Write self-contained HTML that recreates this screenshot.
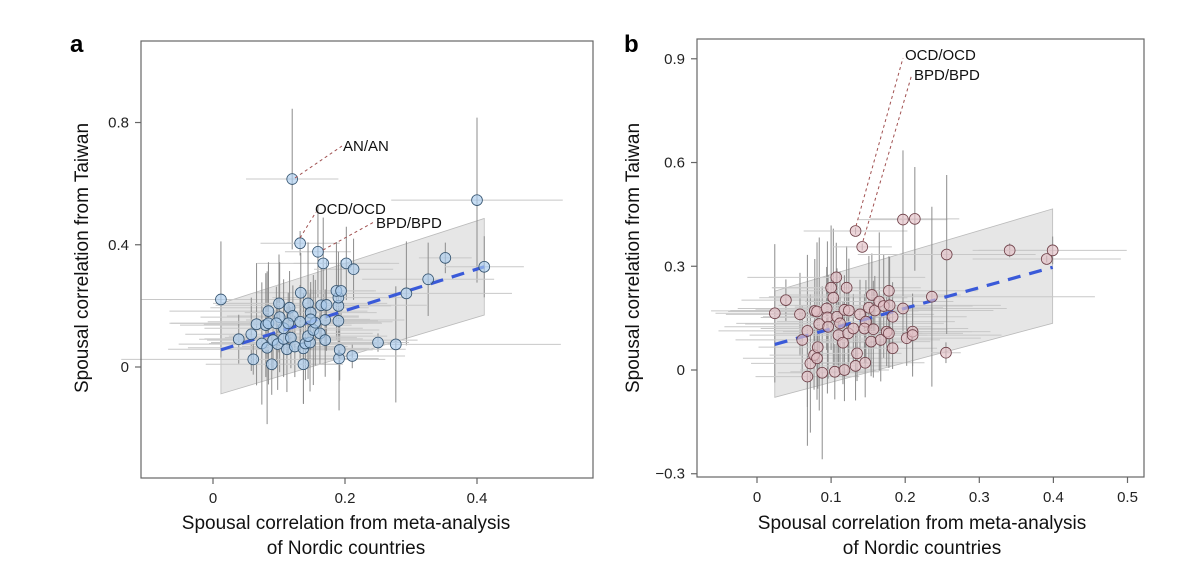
<!DOCTYPE html>
<html><head><meta charset="utf-8">
<style>
html,body{margin:0;padding:0;background:#fff;}
svg{display:block;font-family:"Liberation Sans",sans-serif;}
</style></head>
<body>
<svg id="chart" width="1200" height="581" viewBox="0 0 1200 581" xmlns="http://www.w3.org/2000/svg">
<text x="70" y="52" font-size="24" font-weight="bold">a</text>
<text x="624" y="52" font-size="24" font-weight="bold">b</text>
<g id="pa"></g>
<g id="pb"></g>
</svg>
<script>
// Panel a data
const aX=[0.012,0.120,0.132,0.159,0.167,0.202,0.213,0.400,0.352,0.411,0.326,0.293,0.250,0.277,0.211,0.191,0.192,0.190,0.190,0.190,0.187,0.194,0.133,0.100,0.116,0.084,0.121,0.101,0.066,0.080,0.084,0.039,0.058,0.074,0.082,0.091,0.098,0.107,0.118,0.112,0.124,0.137,0.140,0.147,0.137,0.089,0.061,0.144,0.152,0.162,0.170,0.144,0.148,0.164,0.172,0.170,0.155,0.132,0.107,0.114,0.096,0.148];
const aY=[0.221,0.615,0.405,0.377,0.339,0.339,0.320,0.546,0.357,0.328,0.287,0.241,0.080,0.074,0.036,0.028,0.056,0.151,0.200,0.227,0.249,0.249,0.243,0.208,0.194,0.183,0.167,0.163,0.140,0.137,0.143,0.091,0.107,0.077,0.063,0.088,0.075,0.092,0.096,0.058,0.067,0.061,0.077,0.080,0.009,0.009,0.025,0.101,0.121,0.110,0.088,0.208,0.178,0.202,0.203,0.154,0.145,0.148,0.127,0.143,0.143,0.156];
const aXE=[0.12,0.07,0.06,0.05,0.10,0.08,0.06,0.13,0.04,0.06,0.10,0.16,0.04,0.25,0.08,0.06,0.05,0.06,0.08,0.10,0.06,0.05,0.07,0.10,0.12,0.15,0.10,0.12,0.08,0.13,0.15,0.06,0.10,0.08,0.12,0.10,0.15,0.12,0.10,0.18,0.08,0.10,0.12,0.15,0.06,0.10,0.20,0.12,0.10,0.08,0.14,0.12,0.10,0.16,0.08,0.12,0.10,0.14,0.12,0.10,0.16,0.09];
const aYE=[0.19,0.23,0.04,0.15,0.15,0.12,0.10,0.27,0.05,0.10,0.12,0.17,0.03,0.19,0.04,0.17,0.10,0.12,0.14,0.15,0.16,0.10,0.13,0.16,0.12,0.15,0.10,0.18,0.20,0.17,0.20,0.08,0.12,0.20,0.25,0.10,0.15,0.12,0.10,0.14,0.10,0.18,0.12,0.16,0.13,0.10,0.05,0.14,0.18,0.10,0.12,0.20,0.10,0.12,0.15,0.10,0.14,0.12,0.16,0.10,0.12,0.10];
const aTicksX=[0,0.2,0.4], aTicksY=[0,0.4,0.8];
const aFit=[[0.012,0.056],[0.411,0.328]];
const aBandHi=[0.208,0.486], aBandLo=[-0.088,0.170];
// Panel b data
const bX=[0.024,0.039,0.058,0.061,0.068,0.072,0.068,0.077,0.081,0.082,0.078,0.081,0.084,0.088,0.094,0.095,0.096,0.100,0.103,0.107,0.105,0.108,0.112,0.110,0.116,0.118,0.121,0.118,0.124,0.123,0.130,0.133,0.142,0.135,0.133,0.139,0.146,0.147,0.145,0.151,0.154,0.155,0.157,0.159,0.165,0.167,0.171,0.175,0.178,0.178,0.179,0.183,0.183,0.197,0.197,0.213,0.202,0.210,0.210,0.236,0.256,0.255,0.341,0.391,0.399];
const bY=[0.164,0.202,0.161,0.087,0.113,0.019,-0.019,0.043,0.034,0.066,0.171,0.169,0.133,-0.008,0.178,0.152,0.125,0.238,0.209,0.268,-0.005,0.154,0.135,0.101,0.079,0.000,0.238,0.174,0.172,0.106,0.120,0.402,0.356,0.048,0.012,0.161,0.021,0.140,0.120,0.180,0.082,0.217,0.118,0.172,0.198,0.087,0.185,0.111,0.106,0.229,0.187,0.063,0.154,0.178,0.435,0.437,0.092,0.111,0.101,0.212,0.334,0.050,0.346,0.321,0.346];
const bXE=[0.08,0.06,0.10,0.09,0.12,0.08,0.07,0.06,0.10,0.08,0.14,0.12,0.10,0.06,0.12,0.09,0.14,0.08,0.10,0.12,0.06,0.10,0.14,0.12,0.08,0.06,0.10,0.12,0.16,0.10,0.12,0.07,0.04,0.06,0.05,0.10,0.08,0.12,0.14,0.10,0.08,0.12,0.10,0.16,0.10,0.08,0.12,0.14,0.10,0.12,0.15,0.06,0.10,0.14,0.06,0.06,0.10,0.08,0.12,0.22,0.12,0.02,0.05,0.10,0.10];
const bYE=[0.20,0.06,0.12,0.10,0.22,0.20,0.20,0.10,0.12,0.12,0.15,0.20,0.25,0.25,0.12,0.22,0.15,0.18,0.20,0.10,0.08,0.14,0.15,0.10,0.12,0.09,0.12,0.10,0.15,0.12,0.10,0.01,0.01,0.08,0.10,0.10,0.10,0.12,0.10,0.15,0.10,0.12,0.14,0.10,0.20,0.12,0.15,0.10,0.10,0.10,0.14,0.06,0.10,0.08,0.20,0.15,0.08,0.10,0.12,0.26,0.23,0.03,0.02,0.01,0.04];
const bTicksX=[0,0.1,0.2,0.3,0.4,0.5], bTicksY=[-0.3,0,0.3,0.6,0.9];
const bFit=[[0.024,0.074],[0.399,0.297]];
const bBandHi=[0.228,0.466], bBandLo=[-0.079,0.135];

const NS='http://www.w3.org/2000/svg';
function mk(parent,tag,attrs){const e=document.createElementNS(NS,tag);for(const k in attrs)e.setAttribute(k,attrs[k]);parent.appendChild(e);return e;}

function panel(g,cfg){
  const X=v=>cfg.x0+v*cfg.sx, Y=v=>cfg.y0-v*cfg.sy;
  const bx0=cfg.fit[0][0], bx1=cfg.fit[1][0];
  const band=mk(g,'polygon',{points:`${X(bx0)},${Y(cfg.hi[0])} ${X(bx1)},${Y(cfg.hi[1])} ${X(bx1)},${Y(cfg.lo[1])} ${X(bx0)},${Y(cfg.lo[0])}`,fill:'#e6e6e6',stroke:'#bbb','stroke-width':0.8});
  
  
  for(let i=0;i<cfg.xs.length;i++){
    const h=mk(g,'line',{x1:X(cfg.xs[i]-cfg.xe[i]),x2:X(cfg.xs[i]+cfg.xe[i]),y1:Y(cfg.ys[i]),y2:Y(cfg.ys[i]),stroke:'#c8c8c8','stroke-width':1});
    
    
    const v=mk(g,'line',{x1:X(cfg.xs[i]),x2:X(cfg.xs[i]),y1:Y(cfg.ys[i]-cfg.ye[i]),y2:Y(cfg.ys[i]+cfg.ye[i]),stroke:'#8c8c8c','stroke-width':1});
    
    
  }
  const fl=mk(g,'line',{x1:X(cfg.fit[0][0]),y1:Y(cfg.fit[0][1]),x2:X(cfg.fit[1][0]),y2:Y(cfg.fit[1][1]),stroke:'#3a5ad9','stroke-width':3.2,'stroke-dasharray':'13 9'});
  
  
  for(let i=0;i<cfg.xs.length;i++){
    const c=mk(g,'circle',{cx:X(cfg.xs[i]),cy:Y(cfg.ys[i]),r:5.4,fill:cfg.fill,stroke:cfg.stroke,'stroke-width':0.8});
    
    
  }
  const fr=mk(g,'rect',{x:cfg.fx0,y:cfg.fy0,width:cfg.fx1-cfg.fx0,height:cfg.fy1-cfg.fy0,fill:'none',stroke:'#666','stroke-width':1.2});
  
  
  cfg.tx.forEach(t=>{
    const tk=mk(g,'line',{x1:X(t),x2:X(t),y1:cfg.fy1,y2:cfg.fy1+6,stroke:'#666','stroke-width':1.2});
    
    
    const tl=mk(g,'text',{x:X(t),y:cfg.fy1+25,'font-size':15,'text-anchor':'middle',fill:'#222'});
    tl.textContent=String(t);
    
    
  });
  cfg.ty.forEach(t=>{
    const tk=mk(g,'line',{x1:cfg.fx0-6,x2:cfg.fx0,y1:Y(t),y2:Y(t),stroke:'#666','stroke-width':1.2});
    
    
    const tl=mk(g,'text',{x:cfg.fx0-12,y:Y(t)+5,'font-size':15,'text-anchor':'end',fill:'#222'});
    tl.textContent=t<0?'\u2212'+Math.abs(t):String(t);
    
    
  });
  const yt=mk(g,'text',{x:0,y:0,'font-size':19,'text-anchor':'middle',fill:'#111',transform:`translate(${cfg.ytx},${cfg.yty}) rotate(-90)`});
  yt.textContent='Spousal correlation from Taiwan';
  
  
  const xt1=mk(g,'text',{x:cfg.xtx,y:529,'font-size':19,'text-anchor':'middle',fill:'#111'});
  xt1.textContent='Spousal correlation from meta-analysis';
  
  
  const xt2=mk(g,'text',{x:cfg.xtx,y:554,'font-size':19,'text-anchor':'middle',fill:'#111'});
  xt2.textContent='of Nordic countries';
  
  
  cfg.ann.forEach(a=>{
    const l=mk(g,'line',{x1:a[1],y1:a[2],x2:a[3],y2:a[4],stroke:'#a05050','stroke-width':1,'stroke-dasharray':'3 3'});
    
    
    const t=mk(g,'text',{x:a[5],y:a[6],'font-size':15,fill:'#111'});
    t.textContent=a[0];
    
    
  });
}
panel(document.getElementById('pa'),{x0:213,sx:660,y0:367,sy:305.6,xs:aX,ys:aY,xe:aXE,ye:aYE,fit:aFit,hi:aBandHi,lo:aBandLo,
  fill:'rgba(170,205,238,0.65)',stroke:'#34536f',fx0:141,fx1:593,fy0:41,fy1:478,tx:aTicksX,ty:aTicksY,ytx:88,yty:258,xtx:346,
  ann:[['AN/AN',295,178,342,146,343,151],['OCD/OCD',300,238,316,212,315,214],['BPD/BPD',323,250,374,222,376,228]]});
panel(document.getElementById('pb'),{x0:757,sx:741,y0:370,sy:345.8,xs:bX,ys:bY,xe:bXE,ye:bYE,fit:bFit,hi:bBandHi,lo:bBandLo,
  fill:'rgba(228,192,198,0.65)',stroke:'#6e4048',fx0:697,fx1:1144,fy0:39,fy1:477,tx:bTicksX,ty:bTicksY,ytx:639,yty:258,xtx:922,
  ann:[['OCD/OCD',856,226,903,58,905,60],['BPD/BPD',863,241,912,74,914,80]]});
</script>
</body></html>
